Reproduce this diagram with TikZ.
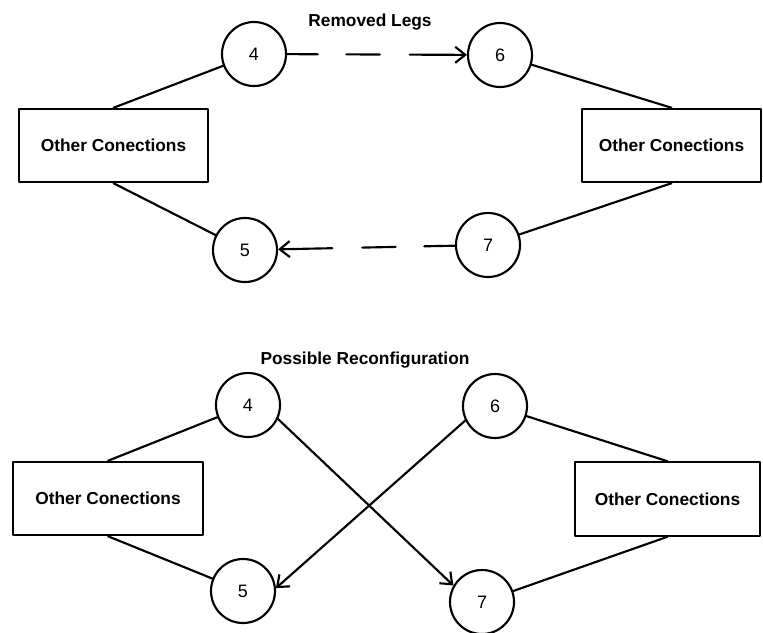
\documentclass[tikz,border=0pt]{standalone}
\usepackage{fontspec}
\setmainfont{Liberation Sans}
\usetikzlibrary{arrows.meta}
\begin{document}
\begin{tikzpicture}[x=0.75pt, y=-0.75pt, line join=round, line cap=round, >={Straight Barb[length=7.5pt, width=12pt]}, font=\fontsize{13}{15}\selectfont\bfseries]
	\tikzset{
		leg/.style={circle, draw, line width=1.6pt, minimum size=48pt, inner sep=0pt, font=\fontsize{13.5}{15}\selectfont},
		conn/.style={rectangle, draw, line width=1.6pt, minimum height=55pt, minimum width=#1},
		conn/.default=142pt,
		link/.style={line width=1.6pt},
		removed/.style={line width=1.6pt, dash pattern=on 23pt off 21.5pt on 25pt off 22.5pt on 45pt off 0pt}
	}
	\useasboundingbox (0,0) rectangle (763,632);
	
	% removed legs
	\node (title1) at (370,22) {Removed Legs};
	\node[leg] (a4) at (254,54) {4};
	\node[leg] (a6) at (500,55) {6};
	\node[leg] (a5) at (245,250) {5};
	\node[leg] (a7) at (488,245) {7};
	\node[conn] (oL1) at (113.5,145.5) {Other Conections};
	\node[conn=134pt] (oR1) at (671.5,145.5) {Other Conections};
	
	\draw[link] (oL1.north) -- (a4) (oL1.south) -- (a5);
	\draw[link] (oR1.north) -- (a6) (oR1.south) -- (a7);
	\draw[removed, ->] (a4) -- (a6);
	\draw[removed, ->] (a7) -- (a5);
	
	% possible reconfiguration
	\node (title2) at (365,360) {Possible Reconfiguration};
	\node[leg] (b4) at (248,405) {4};
	\node[leg] (b6) at (495,406) {6};
	\node[leg] (b5) at (243,591) {5};
	\node[leg] (b7) at (482,602) {7};
	\node[conn] (oL2) at (108,498.5) {Other Conections};
	\node[conn=138.5pt] (oR2) at (667.5,499) {Other Conections};
	
	\draw[link] (oL2.north) -- (b4) (oL2.south) -- (b5);
	\draw[link] (oR2.north) -- (b6) (oR2.south) -- (b7);
	\draw[link, ->] (b4.-25) -- (b7.150);
	\draw[link, ->] (b6.206) -- (b5.5);
\end{tikzpicture}
\end{document}
